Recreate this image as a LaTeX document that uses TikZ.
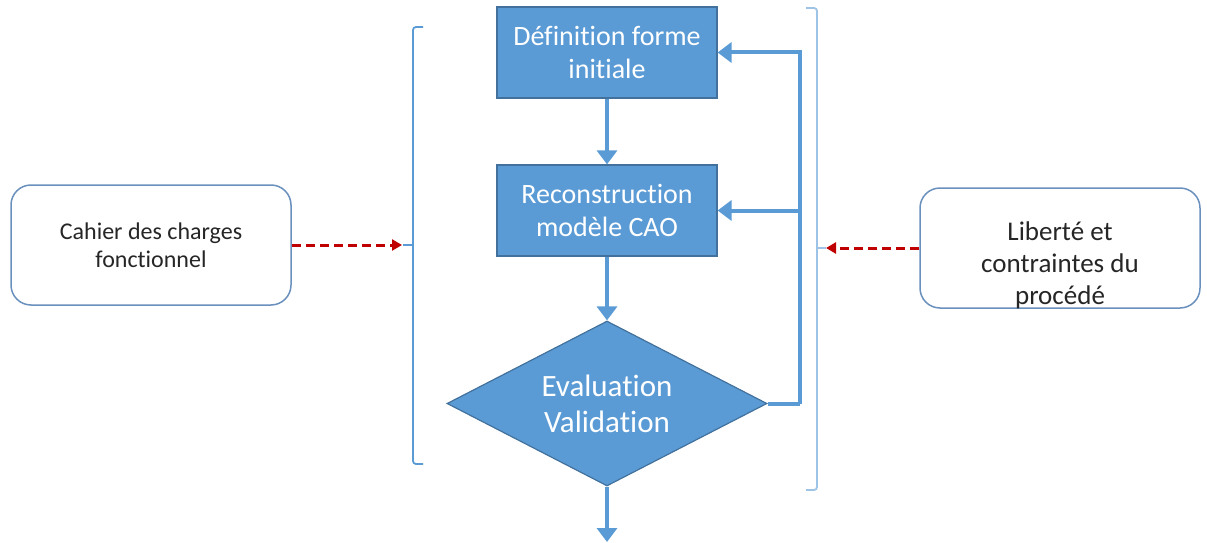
\documentclass[tikz,border=0pt]{standalone}
\usepackage{fontspec}
\setmainfont{Carlito}[Ligatures=NoCommon]
\usetikzlibrary{shapes.geometric,arrows.meta}

\definecolor{bleu}{HTML}{5B9BD5}
\definecolor{bleufonce}{HTML}{41719C}
\definecolor{bleuclair}{HTML}{9DC3E6}
\definecolor{cadre}{HTML}{6A90BE}
\definecolor{rouge}{HTML}{C00000}
\definecolor{texte}{HTML}{262626}

\tikzset{
  stepbox/.style={draw=bleufonce,line width=1.2pt,fill=bleu,text=white,align=center,
    minimum width=220pt,minimum height=91pt,inner sep=0pt,
    font=\fontsize{28}{33}\selectfont},
  decision/.style={diamond,aspect=1.94,draw=bleufonce,line width=1.2pt,fill=bleu,text=white,
    align=center,minimum width=320pt,minimum height=165pt,inner sep=0pt,
    font=\fontsize{31}{36}\selectfont},
  sidebox/.style={draw=cadre,line width=1.5pt,rounded corners=20pt,fill=white,
    minimum width=280pt,minimum height=120pt},
  sidetext/.style={text=texte,align=center,inner sep=0pt},
  flow/.style={draw=bleu,line width=4pt,-{Triangle[length=14pt,width=20pt]}},
  influence/.style={draw=rouge,line width=3pt,dash pattern=on 9pt off 5pt,
    -{Triangle[length=10pt,width=11pt]}},
  bracket/.style={line width=1.8pt,rounded corners=3pt}
}

\begin{document}
\begin{tikzpicture}[x=1pt,y=-1pt]
	\useasboundingbox (0,0) rectangle (1207,543);
	% the loop
	\node [stepbox] (defn) at (607,52.5) {Définition forme\\initiale};
	\node [stepbox] (recon) at (607,210.5) {Reconstruction\\modèle CAO};
	\node [decision] (eval) at (607,403.5) {Evaluation\\Validation};
	\coordinate (sortie) at (607,542);
	\coordinate (retour) at (800,403.5);
	\draw [flow] (defn) -- (recon);
	\draw [flow] (recon) -- (eval);
	\draw [flow] (eval) -- (sortie);
	\draw [flow,-] (eval.east) -- (retour);
	\draw [flow,rounded corners=0pt] (retour) |- (defn.east);
	\draw [flow] (retour |- recon.east) -- (recon.east);
	% brackets
	\draw [bracket,draw=bleu] (423,27) -- (413,27) -- (413,464) -- (423,464);
	\draw [bleu,line width=1.8pt] (413,245) -- (403,245);
	\draw [bracket,draw=bleuclair] (806,8) -- (817,8) -- (817,490) -- (806,490);
	\draw [bleuclair,line width=1.8pt] (817,248) -- (826,248);
	\coordinate (brackL) at (402,245);
	\coordinate (brackR) at (826,248);
	% inputs
	\node [sidebox] (cahier) at (151,245) {};
	\node [sidetext,font=\fontsize{24}{28}\selectfont] at (cahier.center) {Cahier des charges\\fonctionnel};
	\node [sidebox] (liberte) at (1060,248) {};
	\node [sidetext,font=\fontsize{27}{32}\selectfont] at ([yshift=-17pt]liberte.center) {Liberté et\\contraintes du\\procédé};
	\draw [influence] (cahier) -- (brackL);
	\draw [influence] (liberte) -- (brackR);
\end{tikzpicture}
\end{document}
